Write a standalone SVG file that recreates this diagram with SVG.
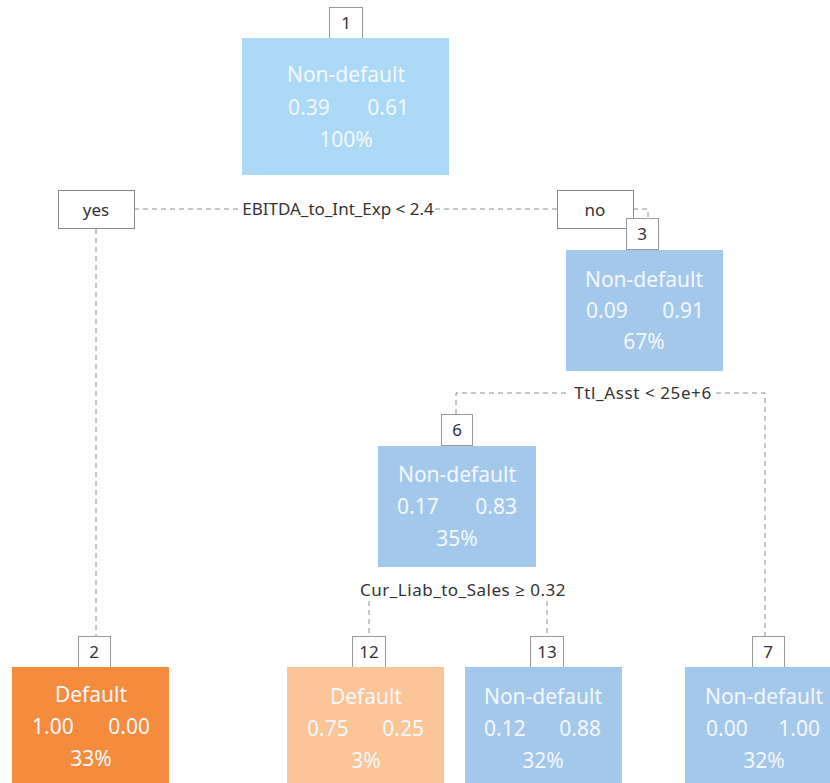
<svg xmlns="http://www.w3.org/2000/svg" width="830" height="783" viewBox="0 0 830 783">
<style>
.bg{fill:#ffffff}
.nt{font-family:"Noto Sans","Open Sans",sans-serif;font-size:21px;fill:#f4f8fc}
.lb{font-family:"Noto Sans","Open Sans",sans-serif;font-size:17px;fill:#333333}
.num{fill:#ffffff;stroke:#9a9a9a;stroke-width:1}
.tag{fill:#ffffff;stroke:#8a8a8a;stroke-width:1}
.con{fill:none;stroke:#8c8c8c;stroke-width:1;stroke-dasharray:5,4}
.blue1{fill:#acdaf6}
.blue2{fill:#a3c8ec}
.or1{fill:#f58b3c}
.or2{fill:#fbc598}
</style>
<rect class="bg" x="0" y="0" width="830" height="783"/>
<g id="connectors">
<path class="con" d="M134,209 H241"/>
<path class="con" d="M435,209 H558"/>
<path class="con" d="M96,229 V636"/>
<path class="con" d="M633,209 H648 V218"/>
<path class="con" d="M456,414 V393 H569"/>
<path class="con" d="M716,393 H765 V636"/>
<path class="con" d="M369,601 V636"/>
<path class="con" d="M547,601 V636"/>
<text class="lb" x="338" y="215" text-anchor="middle">EBITDA_to_Int_Exp &lt; 2.4</text>
<text class="lb" x="643" y="399" text-anchor="middle" letter-spacing="0.6">Ttl_Asst &lt; 25e+6</text>
<text class="lb" x="463" y="596" text-anchor="middle" letter-spacing="0.5">Cur_Liab_to_Sales ≥ 0.32</text>
<g id="yes"><rect class="tag" x="58.500" y="190.500" width="76" height="38"/><text class="lb" x="96" y="216" text-anchor="middle">yes</text></g>
<g id="no"><rect class="tag" x="557.500" y="190.500" width="76" height="38"/><text class="lb" x="595" y="216" text-anchor="middle">no</text></g>
</g>
<g id="node1">
<rect class="num" x="329.500" y="7.500" width="33" height="31"/>
<text class="lb" x="346" y="29" text-anchor="middle">1</text>
<rect class="blue1" x="242" y="38" width="207" height="137"/>
<text class="nt" x="346" y="82" text-anchor="middle">Non-default</text>
<text class="nt" x="288" y="115">0.39</text>
<text class="nt" x="409" y="115" text-anchor="end">0.61</text>
<text class="nt" x="346" y="147" text-anchor="middle">100%</text>
</g>
<g id="node3">
<rect class="num" x="626.500" y="218.500" width="32" height="31"/>
<text class="lb" x="642" y="240" text-anchor="middle">3</text>
<rect class="blue2" x="566" y="250" width="157" height="121"/>
<text class="nt" x="644" y="287" text-anchor="middle">Non-default</text>
<text class="nt" x="586" y="318">0.09</text>
<text class="nt" x="704" y="318" text-anchor="end">0.91</text>
<text class="nt" x="644" y="349" text-anchor="middle">67%</text>
</g>
<g id="node6">
<rect class="num" x="441.500" y="414.500" width="31" height="31"/>
<text class="lb" x="457" y="436" text-anchor="middle">6</text>
<rect class="blue2" x="378" y="446" width="158" height="121"/>
<text class="nt" x="457" y="482" text-anchor="middle">Non-default</text>
<text class="nt" x="397" y="514">0.17</text>
<text class="nt" x="517" y="514" text-anchor="end">0.83</text>
<text class="nt" x="457" y="546" text-anchor="middle">35%</text>
</g>
<g id="node2">
<rect class="num" x="78.500" y="636.500" width="32" height="31"/>
<text class="lb" x="94" y="658" text-anchor="middle">2</text>
<rect class="or1" x="12" y="667" width="157" height="116"/>
<text class="nt" x="91" y="702" text-anchor="middle">Default</text>
<text class="nt" x="32" y="734">1.00</text>
<text class="nt" x="150" y="734" text-anchor="end">0.00</text>
<text class="nt" x="91" y="766" text-anchor="middle">33%</text>
</g>
<g id="node12">
<rect class="num" x="352.500" y="636.500" width="33" height="31"/>
<text class="lb" x="369" y="658" text-anchor="middle">12</text>
<rect class="or2" x="287" y="667" width="157" height="116"/>
<text class="nt" x="366" y="704" text-anchor="middle">Default</text>
<text class="nt" x="307" y="736">0.75</text>
<text class="nt" x="424" y="736" text-anchor="end">0.25</text>
<text class="nt" x="366" y="768" text-anchor="middle">3%</text>
</g>
<g id="node13">
<rect class="num" x="530.500" y="636.500" width="33" height="31"/>
<text class="lb" x="547" y="658" text-anchor="middle">13</text>
<rect class="blue2" x="465" y="667" width="157" height="116"/>
<text class="nt" x="543" y="704" text-anchor="middle">Non-default</text>
<text class="nt" x="484" y="736">0.12</text>
<text class="nt" x="601" y="736" text-anchor="end">0.88</text>
<text class="nt" x="543" y="768" text-anchor="middle">32%</text>
</g>
<g id="node7">
<rect class="num" x="752.500" y="636.500" width="32" height="31"/>
<text class="lb" x="768" y="658" text-anchor="middle">7</text>
<rect class="blue2" x="685" y="667" width="145" height="116"/>
<text class="nt" x="764" y="704" text-anchor="middle">Non-default</text>
<text class="nt" x="706" y="736">0.00</text>
<text class="nt" x="820" y="736" text-anchor="end">1.00</text>
<text class="nt" x="764" y="768" text-anchor="middle">32%</text>
</g>
</svg>
